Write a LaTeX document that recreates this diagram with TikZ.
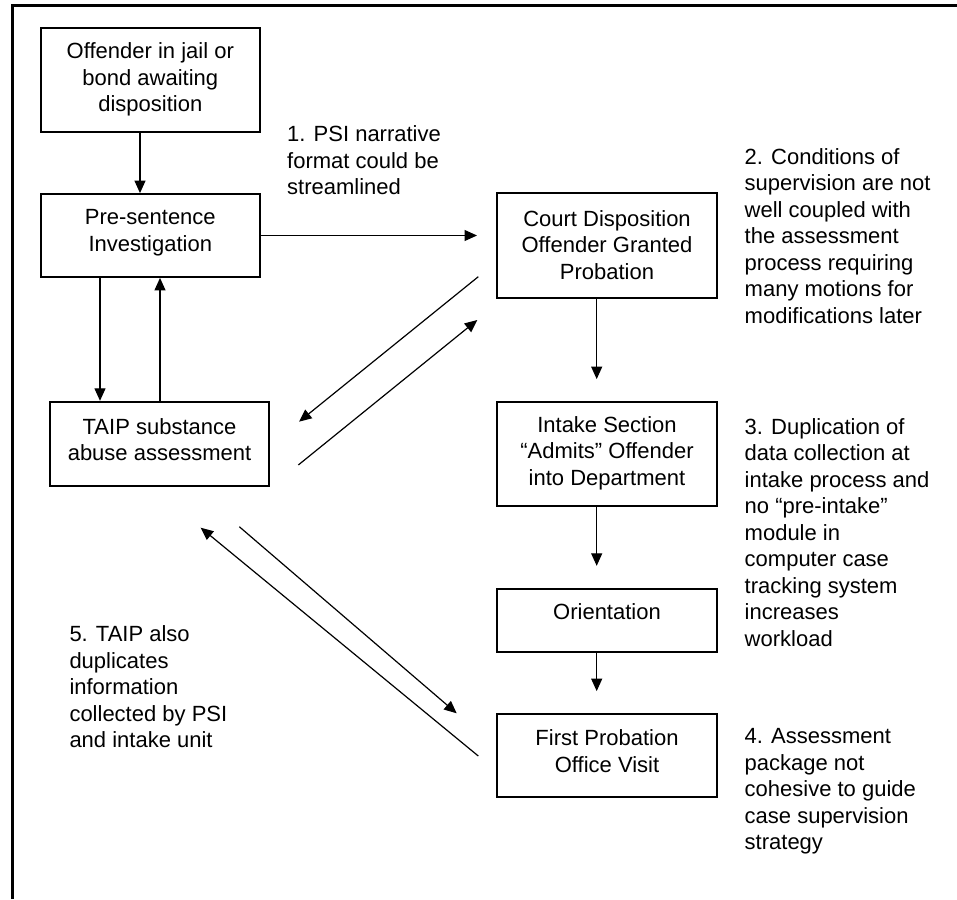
\documentclass[tikz,border=0pt]{standalone}
\usepackage{fontspec}
\setmainfont{Liberation Sans}
\usetikzlibrary{arrows.meta}
\begin{document}
\begin{tikzpicture}[x=1pt,y=-1pt,
  box/.style={draw,line width=1.8pt,inner sep=0pt,minimum width=219.4pt},
  txt/.style={inner sep=0pt,align=center,font=\fontsize{22}{26.5}\selectfont},
  note/.style={inner sep=0pt,align=left,anchor=west,font=\fontsize{22}{26.5}\selectfont},
  arr/.style={line width=1.2pt,-{Triangle[length=12.5pt,width=11pt]}}]
\useasboundingbox (0,0) rectangle (957,899);
\fill[white] (0,0) rectangle (957,899);
\draw[line width=2.2pt] (12.5,899) -- (12.5,5.5) -- (957,5.5);

% boxes
\node[box,minimum height=104pt] (b1) at (150.3,79.7) {};
\node[box,minimum height=83pt] (b2) at (150.3,235.5) {};
\node[box,minimum height=84pt,minimum width=219pt] (b3) at (159.5,443.7) {};
\node[box,minimum height=105pt] (b4) at (607,245.8) {};
\node[box,minimum height=104.3pt] (b5) at (607,453.85) {};
\node[box,minimum height=62.4pt] (b6) at (607,620.5) {};
\node[box,minimum height=83pt] (b7) at (607,755.8) {};

% box texts
\node[txt] (t1) at (150.3,79.5) {Offender in jail or\\bond awaiting\\disposition};
\node[txt] (t2) at (150.3,232.7) {Pre-sentence\\Investigation};
\node[txt] (t3) at (159.5,439.8) {TAIP substance\\abuse assessment};
\node[txt] (t4) at (607,244.8) {Court Disposition\\Offender Granted\\Probation};
\node[txt] (t5) at (607,453.2) {Intake Section\\“Admits” Offender\\into Department};
\node[txt] (t6) at (607,612) {Orientation};
\node[txt] (t7) at (607,751) {First Probation\\Office Visit};

% notes
\node[note] (n1) at (287,160.5) {1. PSI narrative\\format could be\\streamlined};
\node[note] (n2) at (744.5,235.7) {2. Conditions of\\supervision are not\\well coupled with\\the assessment\\process requiring\\many motions for\\modifications later};
\node[note] (n3) at (744.5,532.5) {3. Duplication of\\data collection at\\intake process and\\no “pre-intake”\\module in\\computer case\\tracking system\\increases\\workload};
\node[note] (n4) at (744.5,791.5) {4. Assessment\\package not\\cohesive to guide\\case supervision\\strategy};
\node[note] (n5) at (69.3,687) {5. TAIP also\\duplicates\\information\\collected by PSI\\and intake unit};

% vertical connectors
\draw[arr] ([xshift=-10.3pt]b1.south) -- ([xshift=-10.3pt]b2.north);
\draw[arr] ([xshift=-50.3pt]b2.south) -- ([xshift=-59.5pt]b3.north);
\draw[arr] ([xshift=0.5pt]b3.north) -- ([xshift=9.7pt]b2.south);
\coordinate (h2) at (477,235.5);
\draw[arr] (b2.east) -- (h2);
\draw[arr,shorten >=21.7pt] ([xshift=-10.3pt]b4.south) -- ([xshift=-10.3pt]b5.north);
\draw[arr,shorten >=22.6pt] ([xshift=-10.3pt]b5.south) -- ([xshift=-10.3pt]b6.north);
\draw[arr,shorten >=22.3pt] ([xshift=-10.3pt]b6.south) -- ([xshift=-10.3pt]b7.north);

% diagonal connectors
\coordinate (a1) at (478.3,276.7);
\coordinate (a2) at (299,421.7);
\coordinate (c1) at (298.3,465);
\coordinate (c2) at (477.3,320);
\coordinate (d1) at (478.3,756);
\coordinate (d2) at (200.7,527.7);
\coordinate (e1) at (239.3,526.7);
\coordinate (e2) at (456.7,713.3);
\draw[arr] (a1) -- (a2);
\draw[arr] (c1) -- (c2);
\draw[arr] (d1) -- (d2);
\draw[arr] (e1) -- (e2);
\end{tikzpicture}
\end{document}
